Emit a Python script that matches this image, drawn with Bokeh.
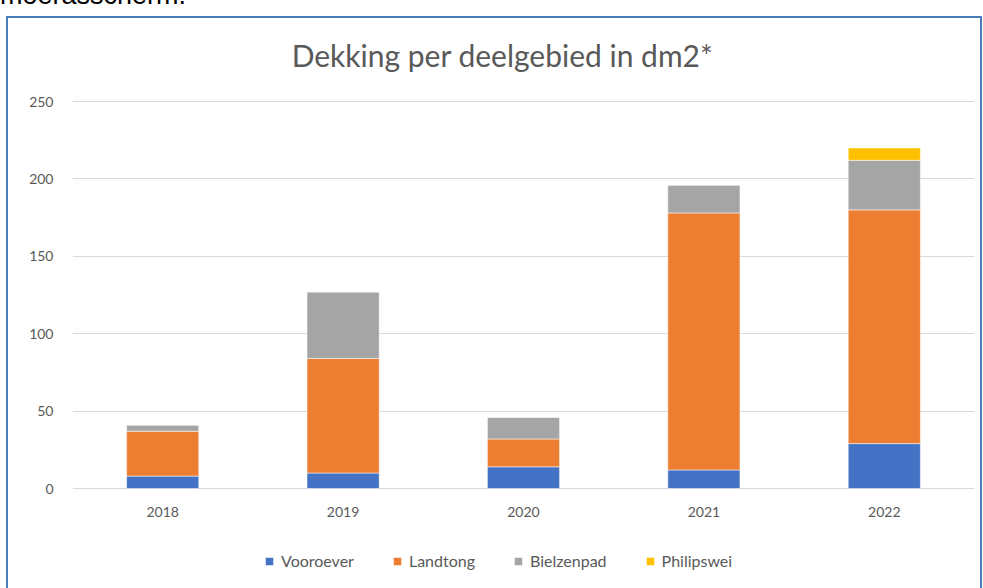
from bokeh.plotting import figure
from bokeh.models import Label, Legend, FixedTicker, Range1d, Div
from bokeh.layouts import column
from bokeh.embed import file_html
from bokeh.resources import INLINE

years = ["2018", "2019", "2020", "2021", "2022"]
series = ["Vooroever", "Landtong", "Bielzenpad", "Philipswei"]
vooroever = [8, 10, 14, 12, 29]
landtong = [29, 74, 18, 166, 151]
bielzenpad = [4, 43, 14, 18, 32]
philipswei = [0, 0, 0, 0, 8]
colors = ["#4472C4", "#ED7D31", "#A5A5A5", "#FFC000"]
y_ticks = [0, 50, 100, 150, 200, 250]
title_text = "Dekking per deelgebied in dm2*"

data = {"year": years, "Vooroever": vooroever, "Landtong": landtong,
        "Bielzenpad": bielzenpad, "Philipswei": philipswei}

TXT = "#595959"
FONT = "Lato"

# layout geometry (page pixels)
PX = (488 - 101) / 250.0          # pixels per data unit
FRAME_TOP, FRAME_BOTTOM, ZERO = 18, 572, 488
y_start = -(FRAME_BOTTOM - ZERO) / PX
y_end = (ZERO - FRAME_TOP) / PX

# border-box sizing: 2px blue border on top/left/right
p = figure(x_range=years, y_range=Range1d(y_start, y_end), width=976, height=572,
           output_backend="svg", toolbar_location=None, title=None,
           min_border_left=64, min_border_right=10, min_border_top=0, min_border_bottom=18)
p.styles = {"border-style": "solid solid none solid", "border-width": "2px",
            "border-color": "#4A7EBB", "margin-left": "6px"}
p.outline_line_color = None

rs = p.vbar_stack(series, x="year", width=0.4, source=data, color=colors,
                  line_color="white", line_width=1, line_alpha=0.5)

p.yaxis.ticker = FixedTicker(ticks=y_ticks)
p.ygrid.grid_line_color = "#D9D9D9"
p.ygrid.grid_line_width = 1
p.xgrid.grid_line_color = None
for ax in (p.xaxis, p.yaxis):
    ax.axis_line_color = None
    ax.major_tick_line_color = None
    ax.minor_tick_line_color = None
    ax.major_tick_in = 0
    ax.major_tick_out = 0
    ax.minor_tick_in = 0
    ax.minor_tick_out = 0
    ax.major_label_text_color = TXT
    ax.major_label_text_font = FONT
    ax.major_label_text_font_size = "14px"
p.yaxis.major_label_standoff = 19
p.xaxis.fixed_location = -(506 - ZERO) / PX
p.xaxis.major_label_standoff = 0

legend = Legend(items=[(s, [r]) for s, r in zip(series, rs)], orientation="horizontal",
                location=(192, 2), border_line_color=None, background_fill_alpha=0,
                label_text_font=FONT, label_text_font_size="16px", label_text_color=TXT,
                glyph_width=10, glyph_height=10, label_standoff=7, spacing=38,
                padding=0, margin=0, label_height=14)
p.add_layout(legend, "center")

# title centred above the middle category (synthetic coordinate 2.5 = "2020")
title = Label(x=years.index("2020") + 0.5, x_offset=-21, y=(ZERO - 54) / PX, text=title_text,
              text_font=FONT, text_font_size="30px", text_color=TXT,
              text_align="center", text_baseline="alphabetic")
p.add_layout(title)

cut = Div(text='<span style="position:relative; top:-18px;">moerasscherm.</span>',
          width=400, height=16, margin=0,
          styles={"overflow": "hidden", "font-family": "Liberation Sans", "font-size": "27px",
                  "line-height": "27px", "color": "black", "white-space": "nowrap"})

layout = column(cut, p, spacing=0)
open("out.html", "w").write(file_html(layout, INLINE))
